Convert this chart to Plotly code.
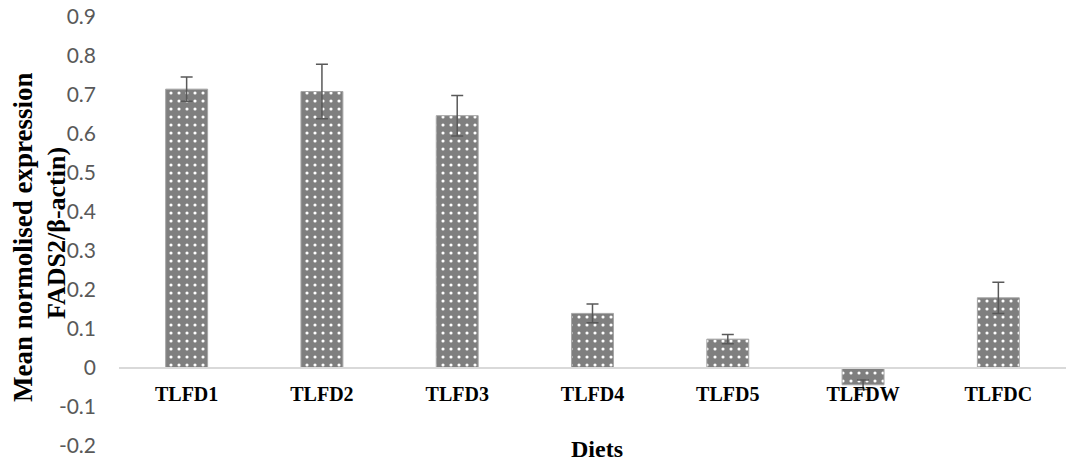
import plotly.graph_objects as go

# FADS2 expression by diet
diets = ["TLFD1", "TLFD2", "TLFD3", "TLFD4", "TLFD5", "TLFDW", "TLFDC"]
mean_expr = [0.715, 0.709, 0.647, 0.140, 0.074, -0.043, 0.180]
err = [0.031, 0.070, 0.052, 0.024, 0.012, 0.012, 0.040]

y_min, y_max = -0.2, 0.9
y_ticks = [-0.2, -0.1, 0, 0.1, 0.2, 0.3, 0.4, 0.5, 0.6, 0.7, 0.8, 0.9]
y_tick_text = ["-0.2", "-0.1", "0", "0.1", "0.2", "0.3", "0.4", "0.5", "0.6", "0.7", "0.8", "0.9"]

serif = "Liberation Serif, Times New Roman, serif"
sans = "Lato, Carlito, Calibri, sans-serif"

fig = go.Figure()
fig.add_trace(go.Bar(
    x=diets,
    y=mean_expr,
    width=0.31,
    marker=dict(
        color="#7f7f7f",
        line=dict(color="#a6a6a6", width=1),
        pattern=dict(shape=".", fgcolor="white", bgcolor="#7f7f7f",
                     size=8, solidity=0.12, fillmode="replace"),
    ),
    error_y=dict(type="data", array=err, visible=True,
                 color="#595959", thickness=1.5, width=6),
))

# category axis crosses the value axis at zero
zero_pos = (0 - y_min) / (y_max - y_min)

plot_w = 1070 - 119 - 4
plot_h = 464 - 17 - 18

fig.update_layout(
    width=1070, height=464,
    margin=dict(l=119, r=4, t=17, b=18),
    paper_bgcolor="white", plot_bgcolor="white",
    showlegend=False,
    bargap=0.69,
    xaxis=dict(
        anchor="free", position=zero_pos,
        showline=True, linecolor="#d9d9d9", linewidth=1.5,
        ticks="", showgrid=False, zeroline=False,
        tickfont=dict(family=serif, size=20, color="black", weight="bold"),
        ticklabelstandoff=8,
    ),
    yaxis=dict(
        range=[y_min, y_max],
        tickvals=y_ticks, ticktext=y_tick_text,
        showgrid=False, zeroline=False, showline=False, ticks="",
        tickfont=dict(family=sans, size=21, color="#595959"),
        ticklabelstandoff=22,
    ),
    annotations=[
        dict(text="<b>Mean normolised expression</b>", xref="paper", yref="paper",
             x=(23 - 119) / plot_w, y=(446 - 237) / plot_h, textangle=-90, showarrow=False,
             font=dict(family=serif, size=27, color="black"), xanchor="center", yanchor="middle"),
        dict(text="<b>FADS2/β-actin)</b>", xref="paper", yref="paper",
             x=(56 - 119) / plot_w, y=(446 - 233) / plot_h, textangle=-90, showarrow=False,
             font=dict(family=serif, size=26, color="black"), xanchor="center", yanchor="middle"),
        dict(text="<b>Diets</b>", xref="paper", yref="paper",
             x=(597 - 119) / plot_w, y=-3 / plot_h, showarrow=False,
             font=dict(family=serif, size=24, color="black"), xanchor="center", yanchor="middle"),
    ],
)

fig.write_html("out.html")
